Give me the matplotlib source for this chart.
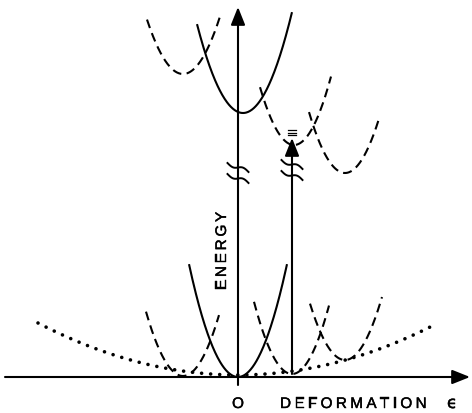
import numpy as np
import matplotlib.pyplot as plt
import matplotlib.patheffects as pe

# parabolas in pixel-like units, origin at the axes crossing
solid_c = [0, 5]
solid_E0 = [0, 264]
solid_k = [0.047, 0.042]
solid_lo = [-49, -46]
solid_hi = [49, 49]

dash_c = [-55, 56, 107, -55, 54, 107]
dash_E0 = [303, 232, 204, 1, 3, 17]
dash_k = [0.042, 0.05, 0.047, 0.047, 0.05, 0.046]
dash_lo = [-36, -34, -36, -37, -38, -35]
dash_hi = [38, 37, 34, 36, 37, 37]

dot_c, dot_E0, dot_k = 0, 2, 0.0013
dot_lo, dot_hi = -200, 196

trans_x = 54          # deformation of the vertical transition
trans_E = [3, 239]    # from / to energy
break_E = [204, 207]  # axis break, transition break

plt.rcParams['font.family'] = ['Liberation Sans', 'DejaVu Sans']

fig = plt.figure(figsize=(4.72, 4.13), dpi=100)
ax = fig.add_axes([0, 0, 1, 1])
ax.set_xlim(-238, 234)
ax.set_ylim(-36, 377)
ax.axis('off')


def parab(c, e0, k, lo, hi):
    x = np.linspace(c + lo, c + hi, 200)
    return x, e0 + k * (x - c) ** 2


for c, e0, k, lo, hi in zip(solid_c, solid_E0, solid_k, solid_lo, solid_hi):
    x, y = parab(c, e0, k, lo, hi)
    ax.plot(x, y, color='k', lw=1.5, solid_capstyle='butt')

for c, e0, k, lo, hi in zip(dash_c, dash_E0, dash_k, dash_lo, dash_hi):
    x, y = parab(c, e0, k, lo, hi)
    ax.plot(x, y, color='k', lw=1.5, linestyle=(0, (4.3, 2.6)))

x, y = parab(dot_c, dot_E0, dot_k, dot_lo, dot_hi)
ax.plot(x, y, color='k', lw=2.6, linestyle=(0, (0.01, 2.5)), dash_capstyle='round')

# axes with arrows
arr = dict(arrowstyle='-|>,head_length=0.6,head_width=0.24', color='k', lw=1.5,
           mutation_scale=18, shrinkA=0, shrinkB=0)
ax.annotate('', xy=(232, 0), xytext=(-233, 0), arrowprops=arr)
ax.annotate('', xy=(0, 370), xytext=(0, -8), arrowprops=arr)
ax.annotate('', xy=(trans_x, trans_E[1]), xytext=(trans_x, trans_E[0]), arrowprops=arr)

# break marks
t = np.linspace(-1, 1, 50)
for xc, ec in [(0, break_E[0]), (trans_x, break_E[1])]:
    for off in (5.5, -5.5):
        ax.plot(xc + 10.5 * t, ec + off - 4.5 * t + 2.0 * np.sin(np.pi * t), color='k', lw=1.4)

# small mark above the arrow head
for e in (242, 244.5, 247):
    ax.plot([trans_x - 4, trans_x + 4], [e, e], color='k', lw=0.9)

fig.canvas.draw()
rend = fig.canvas.get_renderer()
thick = [pe.withStroke(linewidth=0.3, foreground='k')]


def char_w(ch, size):
    tt = ax.text(0, 0, ch, fontsize=size)
    w = tt.get_window_extent(rend).width
    tt.remove()
    return w


def spaced(s, x0, y0, size, track, rot=False):
    pos = x0 if not rot else y0
    for ch in s:
        if rot:
            ax.text(x0, pos, ch, fontsize=size, rotation=90, rotation_mode='anchor',
                    ha='left', va='baseline', path_effects=thick)
        else:
            ax.text(pos, y0, ch, fontsize=size, ha='left', va='baseline', path_effects=thick)
        pos += char_w(ch, size) + track


spaced('DEFORMATION', 42, -31, 11, 3.4)
ax.text(209, -31, 'ϵ', fontsize=12, ha='left', va='baseline',
        family=['DejaVu Sans'], path_effects=thick)
ax.text(0, -31, 'O', fontsize=11, ha='center', va='baseline', path_effects=thick)
spaced('ENERGY', -12, 87, 11, 2.8, rot=True)

fig.savefig('out.png', dpi=100, facecolor='white')
